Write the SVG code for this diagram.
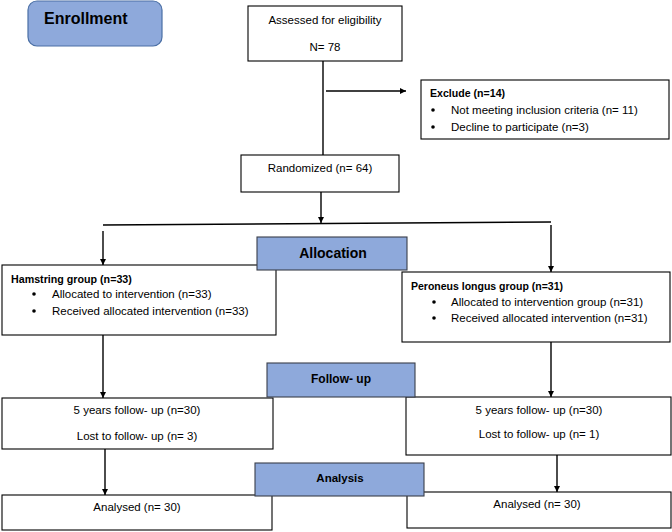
<svg xmlns="http://www.w3.org/2000/svg" width="672" height="532" viewBox="0 0 672 532">
<defs>
<style>
.box{fill:#fff;stroke:#000;stroke-width:1.1}
.blue{fill:#8EA9DB;stroke:#3A3F4A;stroke-width:1.1}
.t{font-family:"Liberation Sans",Arial,sans-serif;font-size:11.5px;fill:#000}
.c{text-anchor:middle}
.b{font-weight:bold}
.ln{stroke:#000;stroke-width:1.4;fill:none}
</style>
<marker id="ah" markerWidth="8" markerHeight="8" refX="6" refY="3" orient="auto" markerUnits="userSpaceOnUse">
<path d="M0,0 L6,3 L0,6 Z" fill="#000"/>
</marker>
</defs>
<g id="connectors">
<line class="ln" x1="323" y1="61" x2="323" y2="155"/>
<line class="ln" x1="326" y1="91" x2="406" y2="91" marker-end="url(#ah)"/>
<line class="ln" x1="321" y1="192" x2="321" y2="223" marker-end="url(#ah)"/>
<line class="ln" x1="103" y1="225" x2="551" y2="222"/>
<line class="ln" x1="103" y1="231" x2="103" y2="265" marker-end="url(#ah)"/>
<line class="ln" x1="551" y1="225" x2="551" y2="272" marker-end="url(#ah)"/>
<line class="ln" x1="103" y1="335" x2="103" y2="398" marker-end="url(#ah)"/>
<line class="ln" x1="551" y1="342" x2="551" y2="397" marker-end="url(#ah)"/>
<line class="ln" x1="105" y1="449" x2="105" y2="495" marker-end="url(#ah)"/>
<line class="ln" x1="557" y1="455" x2="557" y2="492" marker-end="url(#ah)"/>
</g>
<g id="enrollment">
<rect x="28" y="1" width="134" height="45" rx="9" fill="#8EA9DB" stroke="#4A6FA5" stroke-width="1.2"/>
<text class="t b" x="44" y="24" style="font-size:16px">Enrollment</text>
</g>
<g id="assessed">
<rect class="box" x="248" y="6" width="154" height="55"/>
<text class="t c" x="325" y="24">Assessed for eligibility</text>
<text class="t c" x="325" y="51">N= 78</text>
</g>
<g id="exclude">
<rect class="box" x="421" y="80" width="248" height="59"/>
<text class="t b" x="430" y="97" style="font-size:10.6px">Exclude (n=14)</text>
<circle cx="433" cy="110" r="1.8"/>
<text class="t" x="451" y="114">Not meeting inclusion criteria (n= 11)</text>
<circle cx="433" cy="127" r="1.8"/>
<text class="t" x="451" y="131">Decline to participate (n=3)</text>
</g>
<g id="randomized">
<rect class="box" x="241" y="155" width="158" height="37"/>
<text class="t c" x="320" y="172">Randomized (n= 64)</text>
</g>
<g id="hamstring">
<rect class="box" x="2" y="265" width="274" height="70"/>
<text class="t b" x="11" y="283" style="font-size:10.7px">Hamstring group (n=33)</text>
<circle cx="34" cy="294" r="1.8"/>
<text class="t" x="52" y="298">Allocated to intervention (n=33)</text>
<circle cx="34" cy="311" r="1.8"/>
<text class="t" x="52" y="315">Received allocated intervention (n=33)</text>
</g>
<g id="peroneus">
<rect class="box" x="402" y="272" width="268" height="70"/>
<text class="t b" x="411" y="290" style="font-size:10.5px">Peroneus longus group (n=31)</text>
<circle cx="434" cy="302" r="1.8"/>
<text class="t" x="451" y="306">Allocated to intervention group (n=31)</text>
<circle cx="434" cy="318" r="1.8"/>
<text class="t" x="451" y="322">Received allocated intervention (n=31)</text>
</g>
<g id="allocation">
<rect class="blue" x="257" y="237" width="150" height="33"/>
<text class="t c b" x="333" y="258" style="font-size:14px">Allocation</text>
</g>
<g id="followup-left">
<rect class="box" x="2" y="398" width="271" height="51"/>
<text class="t c" x="137" y="414">5 years follow- up (n=30)</text>
<text class="t c" x="137" y="440">Lost to follow- up (n= 3)</text>
</g>
<g id="followup-right">
<rect class="box" x="406" y="397" width="265" height="58"/>
<text class="t c" x="539" y="414">5 years follow- up (n=30)</text>
<text class="t c" x="539" y="438">Lost to follow- up (n= 1)</text>
</g>
<g id="followup">
<rect class="blue" x="267" y="363" width="148" height="34"/>
<text class="t c b" x="341" y="383" style="font-size:12px">Follow- up</text>
</g>
<g id="analysed-left">
<rect class="box" x="2" y="495" width="270" height="35"/>
<text class="t c" x="137" y="511">Analysed (n= 30)</text>
</g>
<g id="analysed-right">
<rect class="box" x="407" y="492" width="264" height="36"/>
<text class="t c" x="537" y="508">Analysed (n= 30)</text>
</g>
<g id="analysis">
<rect class="blue" x="255" y="463" width="169" height="33"/>
<text class="t c b" x="340" y="482" style="font-size:11.5px">Analysis</text>
</g>
</svg>
